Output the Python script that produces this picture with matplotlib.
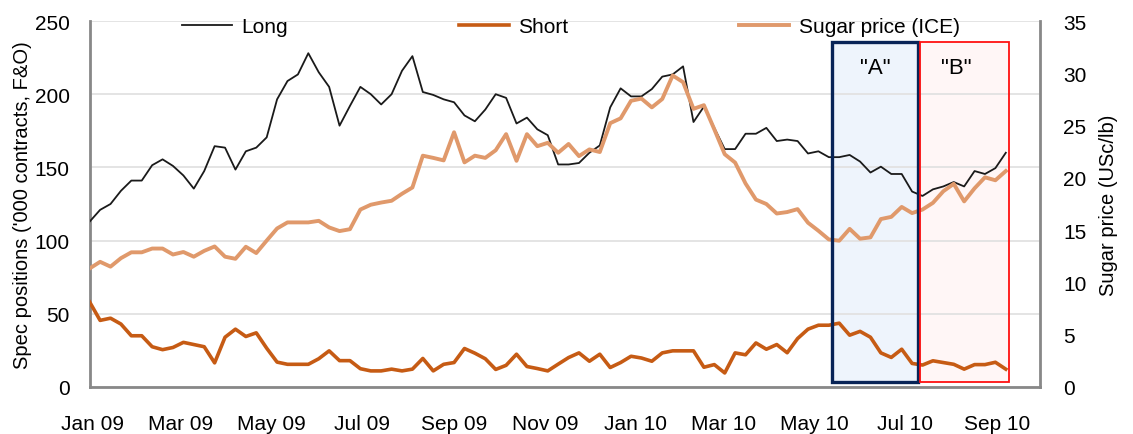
import matplotlib
matplotlib.use('Agg')
import matplotlib.pyplot as plt
import matplotlib.dates as mdates
from matplotlib.patches import Rectangle
import pandas as pd

# ---- data (weekly) ----
dates = pd.date_range('2008-12-30', periods=89, freq='7D')

long_pos = [113, 121, 125, 134, 141, 141, 151.5, 155.5, 151, 144.5, 135.5, 147.5, 164.5, 163.5, 148.5, 161,
            163.5, 170.5, 196.5, 209, 213.5, 228, 215, 205, 178.5, 192, 205, 200, 193, 200, 216,
            226, 201.5, 199.5, 196.5, 194.5, 185.5, 181.5, 189.5, 200, 197.5, 180, 184, 176, 172, 152,
            152, 153, 160, 165, 191, 204, 198.5, 198.5, 203.5, 212, 213.5, 219, 181, 191.5, 177,
            162.5, 162.5, 173, 173, 177, 168, 169, 168, 159.5, 161, 157, 157, 158.5, 154,
            146.5, 150.5, 145.5, 145.5, 133.5, 130.5, 135, 137, 140, 137, 147.5, 145.5, 149.5, 160]

short_pos = [58, 45.5, 47, 43, 35, 35, 27.5, 25.5, 27, 30.5, 29, 27.5, 16.5, 34, 39.5, 34.5,
             37, 26.5, 17, 15.5, 15.5, 15.5, 19.3, 24.7, 18, 18, 12.5, 11, 11, 12.2, 11,
             12.2, 19.5, 11, 15.5, 16.7, 26.3, 23.1, 19.3, 12, 14.8, 22.4, 14, 12.6, 11, 15.6,
             20.1, 23.3, 17.6, 22.4, 13.3, 16.7, 21, 19.8, 17.6, 23.3, 24.7, 24.7, 24.7, 13.5, 15.3,
             9.6, 23.3, 22, 30.1, 25.8, 29, 23.4, 33.1, 39.5, 42.2, 42.2, 43.6, 35.4, 38,
             34, 23.3, 20.2, 25.8, 16.1, 15, 17.9, 16.7, 15.5, 12.2, 15.3, 15.3, 16.9, 12.2]

sugar_price = [11.34, 11.97, 11.51, 12.32, 12.88, 12.88, 13.24, 13.24, 12.67, 12.91, 12.46, 13.02, 13.44, 12.46, 12.26, 13.41,
               12.81, 14.0, 15.16, 15.74, 15.74, 15.74, 15.89, 15.26, 14.91, 15.09, 16.97, 17.43, 17.64, 17.81, 18.48,
               19.08, 22.12, 21.91, 21.67, 24.36, 21.48, 22.12, 21.91, 22.64, 24.18, 21.63, 24.18, 23.03, 23.35, 22.4,
               23.24, 22.08, 22.72, 22.47, 25.23, 25.69, 27.37, 27.58, 26.74, 27.54, 29.79, 29.15, 26.6, 26.95, 24.64,
               22.26, 21.46, 19.46, 17.92, 17.5, 16.59, 16.73, 17.01, 15.71, 14.94, 14.11, 13.99, 15.12, 14.18,
               14.31, 16.06, 16.27, 17.22, 16.63, 16.97, 17.61, 18.72, 19.43, 17.75, 19.0, 20.05, 19.77, 20.65]

series_labels = ['Long', 'Short', 'Sugar price (ICE)']
left_ticks = [0, 50, 100, 150, 200, 250]
right_ticks = [0, 5, 10, 15, 20, 25, 30, 35]

# annotation periods
period_a = ('2010-05-13', '2010-07-10')
period_b = ('2010-07-11', '2010-09-09')
box_y = (3.4, 235.7)

plt.rcParams['font.family'] = ['Liberation Sans', 'DejaVu Sans']

fig = plt.figure(figsize=(11.33, 4.35), dpi=100)
ax = fig.add_axes([89.7 / 1133, 47 / 435, 950.3 / 1133, 366 / 435])
ax2 = ax.twinx()

c_long = '#1a1a1a'
c_short = '#C65B14'
c_sugar = '#E0996B'

l1, = ax.plot(dates, long_pos, color=c_long, lw=1.3, zorder=3, label=series_labels[0])
l2, = ax.plot(dates, short_pos, color=c_short, lw=2.6, zorder=3, label=series_labels[1])
l3, = ax2.plot(dates, sugar_price, color=c_sugar, lw=2.8, zorder=3, label=series_labels[2])

ax.set_ylim(0, 250)
ax2.set_ylim(0, 35)
ax.set_yticks(left_ticks)
ax2.set_yticks(right_ticks)
ax.set_xlim(pd.Timestamp('2008-12-30'), pd.Timestamp('2010-09-30'))

ax.xaxis.set_major_locator(mdates.MonthLocator(bymonth=[1, 3, 5, 7, 9, 11]))
ax.xaxis.set_major_formatter(mdates.DateFormatter('%b %y'))

ax.yaxis.grid(True, color='#E2E2E2', lw=1.3)
ax.set_axisbelow('line')

for s in ['top', 'right']:
    ax.spines[s].set_visible(False)
for s in ['left', 'bottom']:
    ax.spines[s].set_color('#888888')
    ax.spines[s].set_linewidth(2)
for s in ['top', 'left', 'bottom']:
    ax2.spines[s].set_visible(False)
ax2.spines['right'].set_color('#888888')
ax2.spines['right'].set_linewidth(2)

ax.tick_params(axis='y', length=0, labelsize=15, pad=14.5)
ax.tick_params(axis='x', length=0, labelsize=15, pad=19.5)
ax2.tick_params(axis='y', length=0, labelsize=15, pad=16.5)

ax.set_ylabel("Spec positions ('000 contracts, F&O)", fontsize=14.5)
ax.yaxis.set_label_coords(-0.0607, 0.5)
ax2.set_ylabel('Sugar price (USc/lb)', fontsize=14.5)
ax2.yaxis.set_label_coords(1.062, 0.5)

# shaded periods
def add_box(period, face, edge, lw):
    x0 = mdates.date2num(pd.Timestamp(period[0]))
    x1 = mdates.date2num(pd.Timestamp(period[1]))
    ax.add_patch(Rectangle((x0, box_y[0]), x1 - x0, box_y[1] - box_y[0],
                           facecolor=face, edgecolor='none', zorder=1.2))
    ax2.add_patch(Rectangle((x0, box_y[0]), x1 - x0, box_y[1] - box_y[0],
                            facecolor='none', edgecolor=edge, lw=lw, zorder=6,
                            transform=ax.transData))
    return x0, x1

a0, a1 = add_box(period_a, '#EEF4FC', '#082457', 2.4)
b0, b1 = add_box(period_b, '#FFF6F6', '#FF1010', 1.3)
ax2.text((a0 + a1) / 2, 218, '"A"', transform=ax.transData, ha='center', va='center',
         fontsize=16, zorder=7)
ax2.text(mdates.date2num(pd.Timestamp('2010-08-05')), 218, '"B"', transform=ax.transData,
         ha='center', va='center', fontsize=16, zorder=7)

fig.legend([l1, l2, l3], series_labels, loc='center', bbox_to_anchor=(0.504, 0.937),
           ncol=3, frameon=False, fontsize=15, handlelength=2.4, handletextpad=0.45,
           columnspacing=8.2)

fig.savefig('out.png', dpi=100)
